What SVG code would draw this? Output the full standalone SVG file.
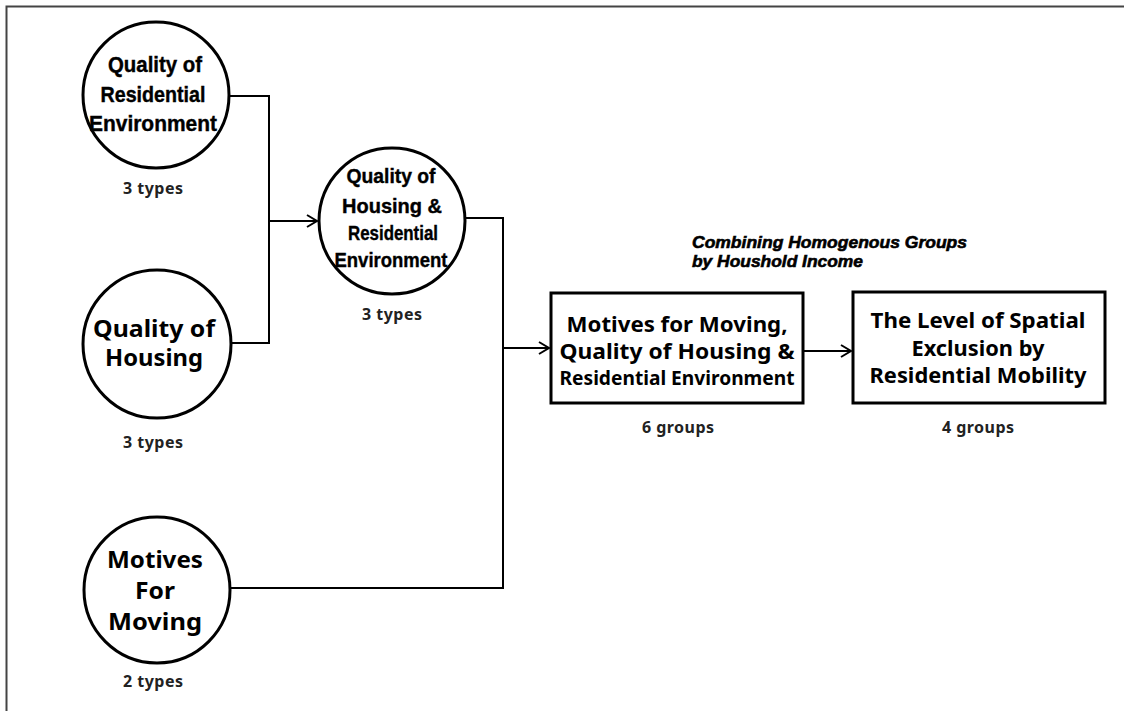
<svg xmlns="http://www.w3.org/2000/svg" width="1124" height="711" viewBox="0 0 1124 711">
<style>
.node{fill:#fff;stroke:#000;stroke-width:3}
.cond{font-family:"Liberation Sans",Arial,sans-serif;font-weight:bold;fill:#000;stroke:#000;stroke-width:0.4}
.wide{font-family:"Noto Sans","Open Sans",sans-serif;font-weight:bold;fill:#000}
.lbl{font-family:"Noto Sans","Open Sans",sans-serif;font-weight:bold;fill:#222;font-size:16px}
.conn{fill:none;stroke:#000;stroke-width:2}
.note{font-family:"Liberation Sans",Arial,sans-serif;font-weight:bold;font-style:italic;font-size:17px;fill:#000;stroke:#000;stroke-width:0.6}
</style>
<defs>
<marker id="arr" markerUnits="userSpaceOnUse" markerWidth="14" markerHeight="16" refX="11" refY="7" orient="auto">
<path d="M1,1 L11,7 L1,13" fill="none" stroke="#000" stroke-width="2"/>
</marker>
</defs>
<rect width="1124" height="711" fill="#fff"/>
<path d="M6.5,711 V6.5 H1124" fill="none" stroke="#444" stroke-width="2"/>

<g id="connectors">
<path class="conn" d="M230,96 H269 V343 H231"/>
<path class="conn" d="M269,221 H317" marker-end="url(#arr)"/>
<path class="conn" d="M465,218 H503 V588 H230"/>
<path class="conn" d="M503,348 H549" marker-end="url(#arr)"/>
<path class="conn" d="M803,351 H851" marker-end="url(#arr)"/>
</g>

<g id="n-resenv">
<circle class="node" cx="156" cy="95" r="73"/>
<text class="cond" font-size="22" text-anchor="middle" x="155" y="72" textLength="94" lengthAdjust="spacingAndGlyphs">Quality of</text>
<text class="cond" font-size="22" text-anchor="middle" x="153" y="102" textLength="105" lengthAdjust="spacingAndGlyphs">Residential</text>
<text class="cond" font-size="22" text-anchor="middle" x="153" y="131" textLength="128" lengthAdjust="spacingAndGlyphs">Environment</text>
<text class="lbl" text-anchor="middle" x="153" y="194" textLength="60">3 types</text>
</g>

<g id="n-housing">
<circle class="node" cx="157" cy="344" r="74"/>
<text class="wide" font-size="23" text-anchor="middle" x="154" y="337" textLength="122" lengthAdjust="spacingAndGlyphs">Quality of</text>
<text class="wide" font-size="23" text-anchor="middle" x="154" y="366" textLength="98" lengthAdjust="spacingAndGlyphs">Housing</text>
<text class="lbl" text-anchor="middle" x="153" y="448" textLength="60">3 types</text>
</g>

<g id="n-housenv">
<circle class="node" cx="392" cy="221" r="73"/>
<text class="cond" font-size="21" text-anchor="middle" x="391" y="183" textLength="89" lengthAdjust="spacingAndGlyphs">Quality of</text>
<text class="cond" font-size="21" text-anchor="middle" x="392" y="213" textLength="100" lengthAdjust="spacingAndGlyphs">Housing &amp;</text>
<text class="cond" font-size="21" text-anchor="middle" x="393" y="240" textLength="90" lengthAdjust="spacingAndGlyphs">Residential</text>
<text class="cond" font-size="21" text-anchor="middle" x="391" y="267" textLength="113" lengthAdjust="spacingAndGlyphs">Environment</text>
<text class="lbl" text-anchor="middle" x="392" y="320" textLength="60">3 types</text>
</g>

<g id="n-motives">
<circle class="node" cx="157" cy="590" r="73"/>
<text class="wide" font-size="23" text-anchor="middle" x="155" y="568" textLength="96" lengthAdjust="spacingAndGlyphs">Motives</text>
<text class="wide" font-size="23" text-anchor="middle" x="155" y="599" textLength="40" lengthAdjust="spacingAndGlyphs">For</text>
<text class="wide" font-size="23" text-anchor="middle" x="155" y="630" textLength="94" lengthAdjust="spacingAndGlyphs">Moving</text>
<text class="lbl" text-anchor="middle" x="153" y="687" textLength="60">2 types</text>
</g>

<g id="n-combined">
<rect class="node" x="551" y="293" width="252" height="110"/>
<text class="wide" font-size="21" text-anchor="middle" x="677" y="332" textLength="221" lengthAdjust="spacingAndGlyphs">Motives for Moving,</text>
<text class="wide" font-size="21" text-anchor="middle" x="677" y="359" textLength="235" lengthAdjust="spacingAndGlyphs">Quality of Housing &amp;</text>
<text class="wide" font-size="19" text-anchor="middle" x="677" y="385" textLength="235" lengthAdjust="spacingAndGlyphs">Residential Environment</text>
<text class="lbl" text-anchor="middle" x="678" y="433" textLength="72">6 groups</text>
</g>

<g id="n-exclusion">
<rect class="node" x="853" y="292" width="252" height="111"/>
<text class="wide" font-size="21" text-anchor="middle" x="978" y="328" textLength="215" lengthAdjust="spacingAndGlyphs">The Level of Spatial</text>
<text class="wide" font-size="21" text-anchor="middle" x="978" y="356" textLength="133" lengthAdjust="spacingAndGlyphs">Exclusion by</text>
<text class="wide" font-size="21" text-anchor="middle" x="978" y="383" textLength="217" lengthAdjust="spacingAndGlyphs">Residential Mobility</text>
<text class="lbl" text-anchor="middle" x="978" y="433" textLength="72">4 groups</text>
</g>

<g id="note">
<text class="note" x="692" y="248" textLength="275" lengthAdjust="spacingAndGlyphs">Combining Homogenous Groups</text>
<text class="note" x="692" y="267" textLength="171" lengthAdjust="spacingAndGlyphs">by Houshold Income</text>
</g>
</svg>
